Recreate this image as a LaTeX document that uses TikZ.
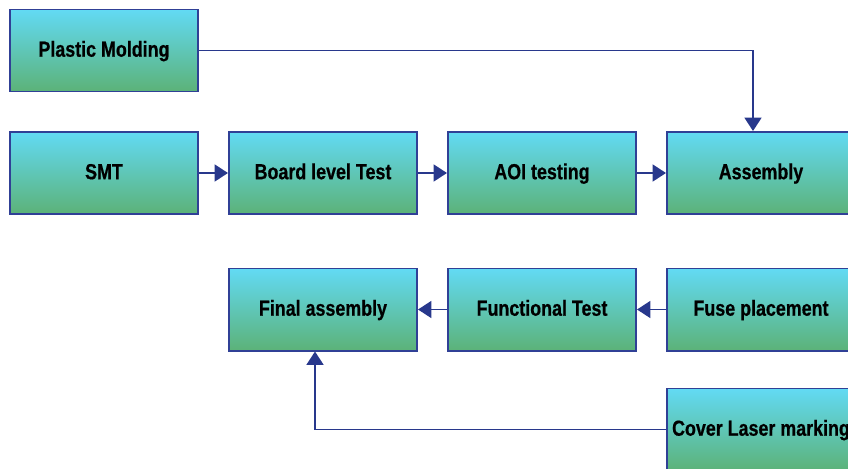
\documentclass[tikz,border=0pt]{standalone}
\usepackage{fontspec}
\newfontfamily\boxfont{Liberation Sans}[FakeStretch=0.82,FakeBold=0.6]
\usepackage{tikz}
\usetikzlibrary{
  arrows.meta,
  calc
}
\definecolor{boxtop}{RGB}{98,218,244}
\definecolor{boxmid}{RGB}{76,196,204}
\definecolor{boxbot}{RGB}{92,178,120}
\definecolor{boxline}{RGB}{48,64,150}
\definecolor{flowline}{RGB}{40,56,140}
\tikzset{
  stage/.style={
    rectangle,
    draw=boxline,
    line width=1.4pt,
    top color=boxtop,
    middle color=boxmid,
    bottom color=boxbot,
    minimum width=4.7cm,
    minimum height=2.05cm,
    inner sep=0pt,
    text height=2.3ex,
    text depth=.25ex,
    font=\boxfont\bfseries\fontsize{15.5}{17}\selectfont
  },
  flow/.style={
    draw=flowline,
    line width=1.4pt,
    -{Triangle[length=9.5pt,width=12pt]}
  }
}

\begin{document}
\begin{tikzpicture}[x=0.025cm,y=-0.025cm]
\useasboundingbox (0,0) rectangle (848,468);
\clip (0,0) rectangle (848,468);
% first row
\node[stage] (molding) at (104,50.5) {Plastic Molding};
\node[stage] (smt) at (104,173) {SMT};
\node[stage] (board) at (323,173) {Board level Test};
\node[stage] (aoi) at (542,173) {AOI testing};
\node[stage] (assembly) at (761,173) {Assembly};
% second row
\node[stage] (final) at (323,309.5) {Final assembly};
\node[stage] (functional) at (542,309.5) {Functional Test};
\node[stage] (fuse) at (761,309.5) {Fuse placement};
\node[stage] (cover) at (761,429.5) {Cover Laser marking};
% connectors
\coordinate (moldturn) at (753,50.5);
\coordinate (coverturn) at (315,429.5);
\draw[flow] (molding.east) -- (moldturn) -- (moldturn |- assembly.north);
\draw[flow] (smt) -- (board);
\draw[flow] (board) -- (aoi);
\draw[flow] (aoi) -- (assembly);
\draw[flow] (fuse) -- (functional);
\draw[flow] (functional) -- (final);
\draw[flow] (cover.west) -- (coverturn) -- (coverturn |- final.south);
\end{tikzpicture}
\end{document}
